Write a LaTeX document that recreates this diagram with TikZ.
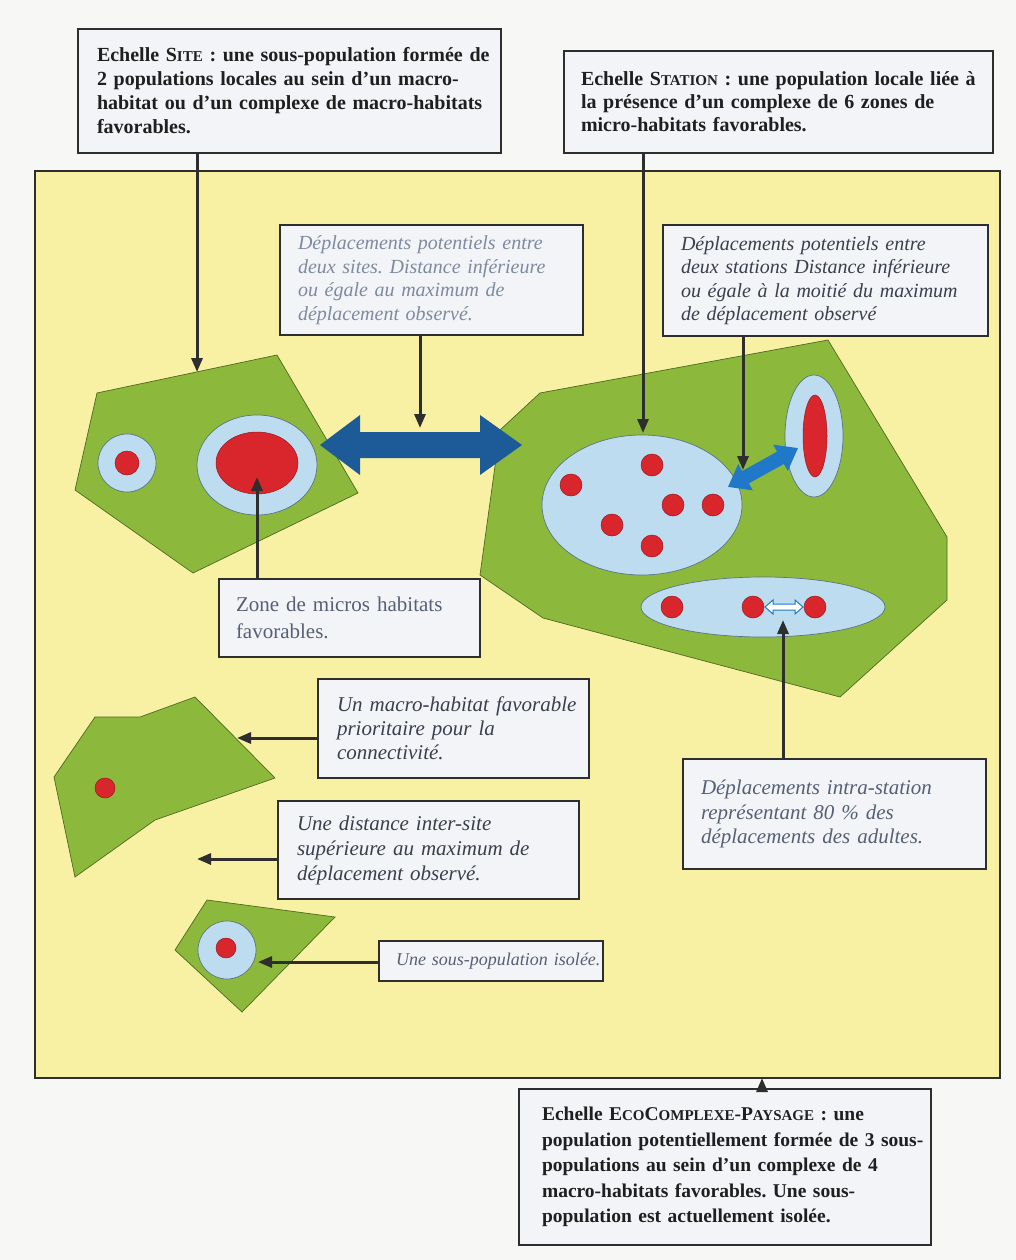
\documentclass[tikz,border=0pt]{standalone}
\usepackage{fontspec}
\setmainfont{Liberation Serif}
\usetikzlibrary{arrows.meta}
\definecolor{bgc}{HTML}{F7F7F5}
\definecolor{frameyellow}{HTML}{F8F0A2}
\definecolor{grn}{HTML}{8CB83C}
\definecolor{grnline}{HTML}{4E6A22}
\definecolor{lblue}{HTML}{BDDCF0}
\definecolor{lbline}{HTML}{5B7486}
\definecolor{rd}{HTML}{D8262C}
\definecolor{dblue}{HTML}{1C5A98}
\definecolor{mblue}{HTML}{1F78C8}
\definecolor{boxfill}{HTML}{F3F4F7}
\definecolor{linec}{HTML}{2E2E2E}
\definecolor{itdark}{HTML}{3A3F4C}
\definecolor{itmid}{HTML}{556074}
\definecolor{itlight}{HTML}{7D8AA0}
\newcommand{\fsc}[2]{#1{\fontsize{15}{15}\selectfont #2}}
\frenchspacing
\begin{document}
\begin{tikzpicture}[x=1pt,y=-1pt,
  box/.style={draw=linec, line width=2pt, fill=boxfill, anchor=north west, align=left, inner ysep=2pt},
  boldtxt/.style={font=\fontsize{20}{24}\selectfont\bfseries, text=black!88},
  itxt/.style={font=\fontsize{20}{23.5}\selectfont\itshape},
  conn/.style={draw=linec, line width=3pt, -{Triangle[length=14pt,width=11pt]}},
  greenpoly/.style={fill=grn, draw=grnline, line width=0.7pt},
  ring/.style={fill=lblue, draw=lbline, line width=0.7pt},
  dot/.style={fill=rd, draw=rd!70!black, line width=0.5pt}
]
\useasboundingbox (0,0) rectangle (1016,1260);
\fill[bgc] (0,0) rectangle (1016,1260);
% yellow frame
\draw[linec, line width=2pt, fill=frameyellow] (35,171) rectangle (1000,1078);

% ---- green macro-habitats
\draw[greenpoly] (97,393) -- (277,355) -- (358,493) -- (193,573) -- (75,490) -- cycle;
\draw[greenpoly] (540,393) -- (828,340) -- (947,537) -- (947,600) -- (840,697) -- (543,618) -- (480,575) -- (500,430) -- cycle;
\draw[greenpoly] (95,717) -- (140,717) -- (195,697) -- (275,778) -- (155,820) -- (75,877) -- (54,777) -- cycle;
\draw[greenpoly] (207,900) -- (335,917) -- (242,1012) -- (175,950) -- cycle;

% ---- site rings
\draw[ring] (127,463) circle [radius=29pt];
\draw[dot] (127,463) circle [radius=12pt];
\draw[ring] (257,465) ellipse [x radius=60pt, y radius=50pt];
\draw[dot] (257,463) ellipse [x radius=41pt, y radius=31pt];

% ---- station complexes
\draw[ring] (642,505) ellipse [x radius=100pt, y radius=70pt];
\foreach \p in {(652,465),(571,485),(673,505),(713,505),(612,525),(652,546)}
  \draw[dot] \p circle [radius=11pt];
\draw[ring] (814,436) ellipse [x radius=29pt, y radius=61pt];
\draw[dot] (815,436) ellipse [x radius=12pt, y radius=41pt];
\draw[ring] (763,607) ellipse [x radius=122pt, y radius=30pt];
\foreach \p in {(672,607),(753,607),(815,607)}
  \draw[dot] \p circle [radius=11pt];

% ---- remaining dots
\draw[dot] (105,788) circle [radius=10pt];
\draw[ring] (227,950) circle [radius=29pt];
\draw[dot] (226,948) circle [radius=10pt];

% ---- big double arrow (between sites)
\fill[dblue] (320,445) -- (360,415) -- (360,432) -- (480,432) -- (480,415) -- (522,445)
  -- (480,475) -- (480,458) -- (360,458) -- (360,475) -- cycle;
% ---- diagonal double arrow (between stations)
\begin{scope}[shift={(763,467.5)}, rotate=29]
\fill[mblue] (-40,0) -- (-20,15) -- (-20,7) -- (20,7) -- (20,15) -- (40,0)
  -- (20,-15) -- (20,-7) -- (-20,-7) -- (-20,-15) -- cycle;
\end{scope}
% ---- small hollow double arrow
\draw[mblue, fill=white, line width=1pt] (765,607) -- (773,600) -- (773,604) -- (795,604) -- (795,600) -- (803,607)
  -- (795,614) -- (795,610) -- (773,610) -- (773,614) -- cycle;

% ---- connector targets
\coordinate (sitetip) at (197,372);
\coordinate (stattip) at (643,433);
\coordinate (dsitetip) at (420,428);
\coordinate (dstattip) at (743,470);
\coordinate (zonetip) at (257,477);
\coordinate (macrotip) at (237,738);
\coordinate (disttip) at (197,859);
\coordinate (isotip) at (258,962);
\coordinate (intratip) at (783,620);
\coordinate (ecotip) at (762,1078);

% ---- text boxes
\node[box, boldtxt, text width=385pt, inner xsep=19pt, minimum height=124pt] (site) at (77,28)
 {\mbox{Echelle \fsc{S}{ITE} : une sous-population formée de}\\
  \mbox{2 populations locales au sein d'un macro-}\\
  \mbox{habitat ou d'un complexe de macro-habitats}\\
  \mbox{favorables.}};
\node[box, boldtxt, font=\fontsize{20}{23}\selectfont\bfseries, text width=395pt, inner xsep=17pt, minimum height=102pt] (station) at (563,50)
 {\mbox{Echelle \fsc{S}{TATION} : une population locale liée à}\\
  \mbox{la présence d'un complexe de 6 zones de}\\
  \mbox{micro-habitats favorables.}};
\node[box, itxt, text=itlight, text width=267pt, inner xsep=18pt, minimum height=110pt] (dsite) at (279,224)
 {\mbox{Déplacements potentiels entre}\\
  \mbox{deux sites. Distance inférieure}\\
  \mbox{ou égale au maximum de}\\
  \mbox{déplacement observé.}};
\node[box, itxt, text=itdark, text width=289pt, inner xsep=18pt, minimum height=111pt] (dstat) at (662,224)
 {\mbox{Déplacements potentiels entre}\\
  \mbox{deux stations Distance inférieure}\\
  \mbox{ou égale à la moitié du maximum}\\
  \mbox{de déplacement observé}};
\node[box, font=\fontsize{21}{27}\selectfont, text=itmid, text width=227pt, inner xsep=17pt, minimum height=78pt] (zone) at (218,578)
 {\mbox{Zone de micros habitats}\\
  \mbox{favorables.}};
\node[box, font=\fontsize{21}{24}\selectfont\itshape, text=itdark, text width=233pt, inner xsep=19pt, minimum height=99pt] (macro) at (317,678)
 {\mbox{Un macro-habitat favorable}\\
  \mbox{prioritaire pour la}\\
  \mbox{connectivité.}};
\node[box, font=\fontsize{21}{25}\selectfont\itshape, text=itdark, text width=263pt, inner xsep=19pt, minimum height=98pt] (dist) at (277,800)
 {\mbox{Une distance inter-site}\\
  \mbox{supérieure au maximum de}\\
  \mbox{déplacement observé.}};
\node[box, font=\fontsize{18}{20}\selectfont\itshape, text=itmid, text width=190pt, inner xsep=17pt, minimum height=40pt] (iso) at (378,940)
 {\mbox{Une sous-population isolée.}};
\node[box, font=\fontsize{21}{24.5}\selectfont\itshape, text=itmid, text width=267pt, inner xsep=18pt, minimum height=110pt] (intra) at (682,758)
 {\mbox{Déplacements intra-station}\\
  \mbox{représentant 80 \% des}\\
  \mbox{déplacements des adultes.}};
\node[box, font=\fontsize{19.5}{25.5}\selectfont\bfseries, text=black!88, text width=366pt, inner xsep=23pt, minimum height=156pt] (eco) at (518,1088)
 {\mbox{Echelle \fsc{E}{CO}\fsc{C}{OMPLEXE}-\fsc{P}{AYSAGE} : une}\\
  \mbox{population potentiellement formée de 3 sous-}\\
  \mbox{populations au sein d'un complexe de 4}\\
  \mbox{macro-habitats favorables. Une sous-}\\
  \mbox{population est actuellement isolée.}};

% ---- connectors
\draw[conn] (site.south -| sitetip) -- (sitetip);
\draw[conn] (station.south -| stattip) -- (stattip);
\draw[conn] (dsite.south -| dsitetip) -- (dsitetip);
\draw[conn] (dstat.south -| dstattip) -- (dstattip);
\draw[conn] (zone.north -| zonetip) -- (zonetip);
\draw[conn] (macro.west |- macrotip) -- (macrotip);
\draw[conn] (dist.west |- disttip) -- (disttip);
\draw[conn] (iso.west |- isotip) -- (isotip);
\draw[conn] (intra.north -| intratip) -- (intratip);
\draw[conn] (eco.north -| ecotip) -- (ecotip);
\end{tikzpicture}
\end{document}
